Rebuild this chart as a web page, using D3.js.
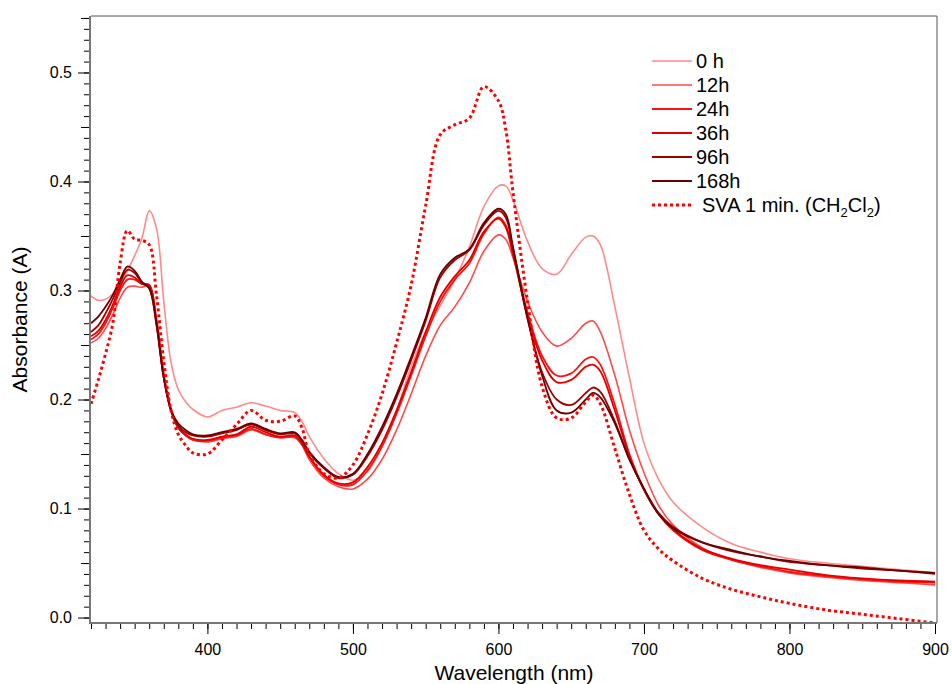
<!DOCTYPE html>
<html>
<head>
<meta charset="utf-8">
<script src="https://cdn.jsdelivr.net/npm/d3@7/dist/d3.min.js"></script>
<style>
  html, body { margin: 0; padding: 0; background: #fff; }
  svg { display: block; }
  text { font-family: "Liberation Sans", Arial, Helvetica, sans-serif; fill: #000; }
</style>
</head>
<body>
<svg id="chart" width="952" height="684"></svg>
<script>
// ---------------- DATA ----------------
const wavelengths = [320,325,330,335,340,345,350,355,360,365,370,375,380,385,390,400,410,420,430,440,450,460,465,470,480,490,500,510,520,530,540,550,560,570,580,590,600,605,610,620,630,640,650,660,665,670,680,690,700,710,720,740,760,780,800,825,850,875,900];

const abs0h   = [0.295,0.291,0.292,0.297,0.305,0.318,0.332,0.348,0.373,0.357,0.290,0.234,0.209,0.198,0.191,0.184,0.190,0.193,0.197,0.194,0.190,0.188,0.180,0.166,0.146,0.132,0.126,0.134,0.157,0.190,0.230,0.262,0.286,0.310,0.340,0.377,0.396,0.396,0.383,0.345,0.320,0.315,0.333,0.349,0.350,0.342,0.285,0.220,0.160,0.127,0.106,0.083,0.068,0.060,0.054,0.050,0.047,0.044,0.041];
const abs12h  = [0.252,0.256,0.265,0.278,0.293,0.303,0.304,0.303,0.305,0.275,0.225,0.192,0.175,0.167,0.163,0.161,0.164,0.166,0.172,0.168,0.165,0.165,0.158,0.145,0.128,0.120,0.118,0.127,0.145,0.172,0.205,0.240,0.268,0.285,0.307,0.336,0.351,0.347,0.330,0.290,0.262,0.249,0.256,0.270,0.272,0.262,0.222,0.172,0.133,0.103,0.085,0.064,0.053,0.046,0.041,0.037,0.034,0.032,0.030];
const abs24h  = [0.255,0.260,0.270,0.284,0.300,0.310,0.310,0.306,0.305,0.272,0.222,0.190,0.174,0.167,0.163,0.162,0.165,0.167,0.173,0.168,0.165,0.166,0.159,0.147,0.130,0.122,0.122,0.135,0.157,0.187,0.222,0.258,0.290,0.310,0.325,0.352,0.367,0.360,0.335,0.280,0.240,0.222,0.224,0.237,0.239,0.232,0.195,0.150,0.118,0.095,0.080,0.062,0.053,0.047,0.042,0.038,0.035,0.033,0.032];
const abs36h  = [0.258,0.263,0.273,0.287,0.303,0.314,0.312,0.306,0.305,0.270,0.220,0.190,0.174,0.168,0.164,0.163,0.166,0.168,0.175,0.170,0.166,0.167,0.160,0.148,0.131,0.123,0.124,0.138,0.160,0.190,0.225,0.262,0.294,0.313,0.328,0.354,0.366,0.358,0.333,0.277,0.236,0.216,0.218,0.230,0.232,0.226,0.190,0.148,0.117,0.095,0.081,0.063,0.054,0.048,0.044,0.039,0.036,0.034,0.033];
const abs96h  = [0.262,0.268,0.279,0.292,0.307,0.319,0.316,0.307,0.302,0.268,0.220,0.190,0.176,0.170,0.167,0.166,0.169,0.172,0.177,0.172,0.168,0.169,0.162,0.151,0.137,0.128,0.131,0.148,0.172,0.202,0.236,0.272,0.312,0.328,0.337,0.360,0.373,0.367,0.338,0.274,0.225,0.200,0.195,0.206,0.211,0.207,0.180,0.145,0.118,0.096,0.083,0.069,0.061,0.056,0.051,0.048,0.045,0.043,0.040];
const abs168h = [0.270,0.276,0.285,0.296,0.310,0.322,0.318,0.308,0.302,0.270,0.220,0.190,0.178,0.172,0.168,0.167,0.170,0.173,0.178,0.173,0.169,0.170,0.163,0.152,0.138,0.129,0.132,0.150,0.175,0.205,0.239,0.275,0.315,0.330,0.338,0.362,0.375,0.370,0.340,0.275,0.222,0.190,0.188,0.200,0.206,0.202,0.178,0.145,0.118,0.095,0.082,0.069,0.062,0.056,0.052,0.048,0.046,0.043,0.041];
const absSVA  = [0.196,0.218,0.242,0.270,0.325,0.355,0.347,0.346,0.342,0.296,0.235,0.190,0.168,0.158,0.151,0.150,0.163,0.177,0.190,0.181,0.180,0.185,0.174,0.150,0.132,0.128,0.140,0.168,0.205,0.252,0.305,0.378,0.443,0.452,0.458,0.487,0.474,0.448,0.390,0.290,0.212,0.183,0.183,0.198,0.204,0.196,0.155,0.113,0.080,0.063,0.052,0.036,0.026,0.019,0.013,0.007,0.003,-0.001,-0.005];

const seriesLabels = ["0 h","12h","24h","36h","96h","168h","SVA 1 min. (CH2Cl2)"];
const seriesValues = [abs0h, abs12h, abs24h, abs36h, abs96h, abs168h, absSVA];

const xTicks = [400,500,600,700,800,900];
const yTicks = [0.0,0.1,0.2,0.3,0.4,0.5];

// ---------------- STYLE ----------------
const colors = ["#ff8a8a","#ff4a4a","#ff1010","#e00000","#a00000","#6a0000","#ff0000"];
const widths = [1.6,1.6,1.8,1.8,1.8,1.8,3];
const dashes = [null,null,null,null,null,null,"3,3"];

const svg = d3.select("#chart");
const L = 91, R = 935, T = 16, B = 623;

const x = d3.scaleLinear().domain([320, 900]).range([L, R]);
const y = d3.scaleLinear().domain([-0.005, 0.5518]).range([B, T]);

svg.append("defs").append("clipPath").attr("id","clip")
  .append("rect").attr("x", L).attr("y", T).attr("width", R - L + 2).attr("height", B - T);

// frame (top & right)
svg.append("line").attr("x1", L).attr("x2", R + 2).attr("y1", T).attr("y2", T).attr("stroke","#555").attr("stroke-width",1);
svg.append("line").attr("x1", R + 2).attr("x2", R + 2).attr("y1", T).attr("y2", B).attr("stroke","#555").attr("stroke-width",1);

// lines
const line = d3.line()
  .x((d, i) => x(wavelengths[i]))
  .y(d => y(d))
  .curve(d3.curveCatmullRom.alpha(0.5));

const g = svg.append("g").attr("clip-path","url(#clip)");
seriesValues.forEach((vals, k) => {
  g.append("path")
    .datum(vals)
    .attr("fill","none")
    .attr("stroke", colors[k])
    .attr("stroke-width", widths[k])
    .attr("stroke-dasharray", dashes[k])
    .attr("stroke-linejoin","round")
    .attr("d", line);
});

// x axis
const xMinor = d3.range(320, 901, 10);
const xAxisMinor = d3.axisBottom(x).tickValues(xMinor).tickSize(6).tickFormat("");
const xAxisMajor = d3.axisBottom(x).tickValues(xTicks).tickSize(11).tickFormat(d3.format("d"));
const gxm = svg.append("g").attr("transform", `translate(0,${B})`).call(xAxisMinor);
const gx = svg.append("g").attr("transform", `translate(0,${B})`).call(xAxisMajor);
[gxm, gx].forEach(a => { a.select(".domain").remove(); a.selectAll("line").attr("stroke","#000"); });
gx.selectAll("text").attr("font-size", 16).attr("dy", "1.0em").attr("y", 16);

// y axis
const yMinor = d3.range(0, 0.5501, 0.01);
const yMid = [0.05,0.15,0.25,0.35,0.45,0.55];
const yAxisMinor = d3.axisLeft(y).tickValues(yMinor).tickSize(6).tickFormat("");
const yAxisMid = d3.axisLeft(y).tickValues(yMid).tickSize(9).tickFormat("");
const yAxisMajor = d3.axisLeft(y).tickValues(yTicks).tickSize(12).tickFormat(d3.format(".1f"));
const gym = svg.append("g").attr("transform", `translate(${L - 1},0)`).call(yAxisMinor);
const gyd = svg.append("g").attr("transform", `translate(${L - 1},0)`).call(yAxisMid);
const gy = svg.append("g").attr("transform", `translate(${L - 1},0)`).call(yAxisMajor);
[gym, gyd, gy].forEach(a => { a.select(".domain").remove(); a.selectAll("line").attr("stroke","#000"); });
gy.selectAll("text").attr("font-size", 16).attr("x", -18);

// axis lines (grey, thicker)
svg.append("line").attr("x1", L - 1).attr("x2", L - 1).attr("y1", T).attr("y2", B + 1).attr("stroke","#777").attr("stroke-width",2);
svg.append("line").attr("x1", L - 2).attr("x2", R + 2).attr("y1", B).attr("y2", B).attr("stroke","#777").attr("stroke-width",2);

// axis titles
svg.append("text").attr("x", (L + R) / 2 + 1).attr("y", 680).attr("text-anchor","middle")
  .attr("font-size", 21).text("Wavelength (nm)");
svg.append("text").attr("transform", `translate(27,${(T + B) / 2}) rotate(-90)`)
  .attr("text-anchor","middle").attr("font-size", 21).text("Absorbance (A)");

// legend
const legY0 = 61, legDy = 24;
seriesLabels.forEach((lab, k) => {
  const yy = legY0 + k * legDy;
  svg.append("line").attr("x1", 652).attr("x2", 692).attr("y1", yy).attr("y2", yy)
    .attr("stroke", colors[k]).attr("stroke-width", widths[k]).attr("stroke-dasharray", dashes[k]);
  const t = svg.append("text").attr("x", k === 6 ? 702 : 696).attr("y", yy + 7).attr("font-size", 20);
  if (k === 6) {
    t.append("tspan").text("SVA 1 min. (CH");
    t.append("tspan").attr("font-size", 13).attr("dy", 5).text("2");
    t.append("tspan").attr("dy", -5).text("Cl");
    t.append("tspan").attr("font-size", 13).attr("dy", 5).text("2");
    t.append("tspan").attr("dy", -5).text(")");
  } else {
    t.text(lab);
  }
});
</script>
</body>
</html>
